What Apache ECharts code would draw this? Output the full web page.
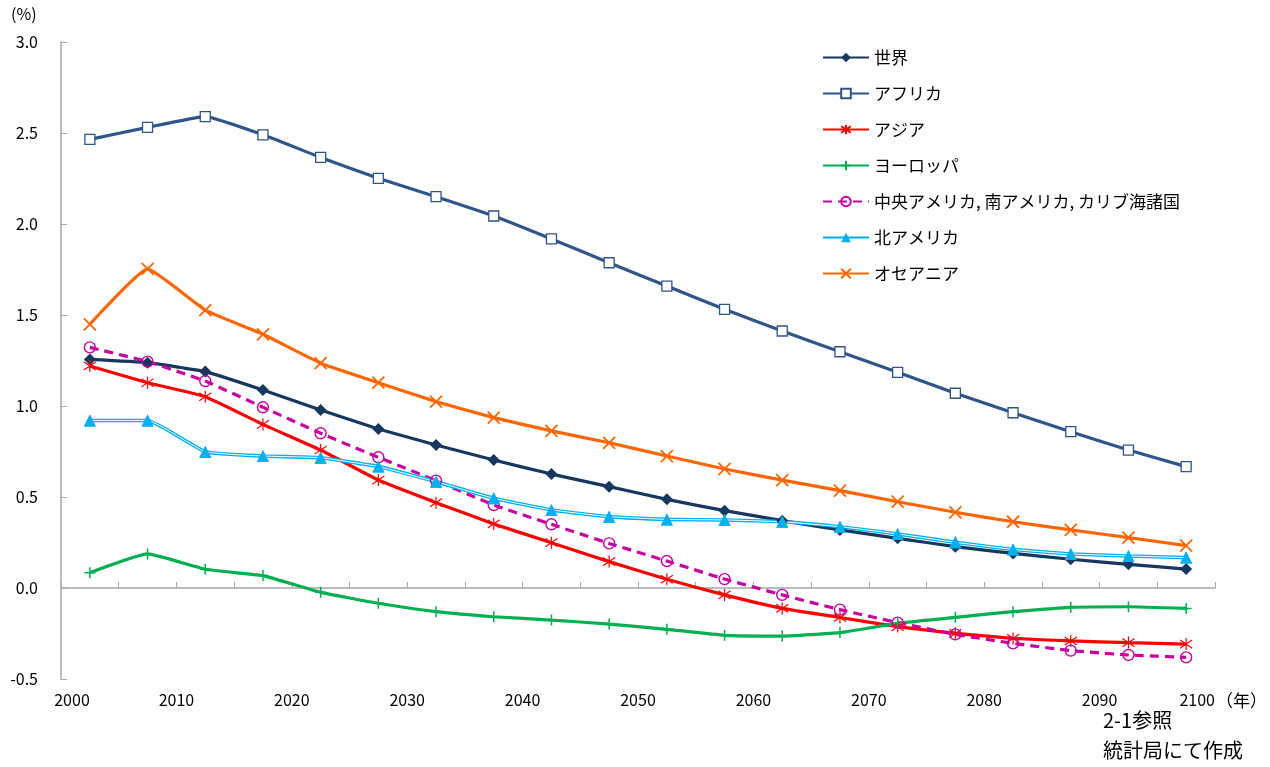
<!DOCTYPE html>
<html>
<head>
<meta charset="utf-8">
<script src="https://cdn.jsdelivr.net/npm/echarts@6/dist/echarts.min.js"></script>
<style>
html,body{margin:0;padding:0;background:#fff;}
#chart{width:1270px;height:767px;}
</style>
</head>
<body>
<div id="chart"></div>
<script>
// ---- data ----
const years = [2002.5, 2007.5, 2012.5, 2017.5, 2022.5, 2027.5, 2032.5, 2037.5, 2042.5, 2047.5,
               2052.5, 2057.5, 2062.5, 2067.5, 2072.5, 2077.5, 2082.5, 2087.5, 2092.5, 2097.5];
const seriesNames = ['世界', 'アフリカ', 'アジア', 'ヨーロッパ', '中央アメリカ, 南アメリカ, カリブ海諸国', '北アメリカ', 'オセアニア'];
const world = [1.256, 1.238, 1.189, 1.088, 0.978, 0.874, 0.786, 0.703, 0.626, 0.557,
               0.487, 0.425, 0.370, 0.319, 0.273, 0.227, 0.190, 0.158, 0.130, 0.104];
const africa = [2.465, 2.531, 2.590, 2.490, 2.366, 2.251, 2.150, 2.044, 1.918, 1.787,
                1.659, 1.531, 1.412, 1.298, 1.185, 1.070, 0.963, 0.859, 0.758, 0.667];
const asia = [1.220, 1.128, 1.051, 0.899, 0.758, 0.593, 0.469, 0.352, 0.249, 0.145,
              0.048, -0.038, -0.112, -0.162, -0.212, -0.249, -0.277, -0.291, -0.300, -0.308];
const europe = [0.084, 0.187, 0.103, 0.068, -0.024, -0.084, -0.130, -0.158, -0.176, -0.198,
                -0.227, -0.260, -0.264, -0.245, -0.194, -0.161, -0.130, -0.106, -0.103, -0.112];
const latinAmerica = [1.322, 1.244, 1.137, 0.993, 0.850, 0.718, 0.590, 0.456, 0.350, 0.245,
                      0.148, 0.049, -0.038, -0.119, -0.190, -0.255, -0.304, -0.344, -0.368, -0.381];
const northAmerica = [0.920, 0.920, 0.749, 0.725, 0.716, 0.667, 0.584, 0.493, 0.429, 0.392,
                      0.377, 0.374, 0.364, 0.337, 0.297, 0.251, 0.212, 0.187, 0.176, 0.167];
const oceania = [1.449, 1.753, 1.527, 1.394, 1.235, 1.128, 1.024, 0.936, 0.863, 0.798,
                 0.725, 0.654, 0.593, 0.535, 0.474, 0.416, 0.364, 0.319, 0.277, 0.233];
const yTicks = {min: -0.5, max: 3.0, interval: 0.5};
const xTicks = {min: 2000, max: 2100, interval: 5, labelEvery: 10};

// ---- helpers ----
const pair = arr => years.map((x, i) => [x, arr[i]]);
const FONT = '"Noto Sans CJK JP", "Noto Sans", sans-serif';
const SMOOTH = 0.12;

const C = {
  world: '#17375E',
  africa: '#2F5589',
  asia: '#FF0000',
  europe: '#00B050',
  latin: '#C800A0',
  na: '#00B0F0',
  oceania: '#FF6600'
};

const pathX = 'path://M0,0L10,10M10,0L0,10';
const pathPlus = 'path://M5,0L5,10M0,5L10,5';
const pathStar = 'path://M5,0L5,10M0.7,1.6L9.3,8.4M9.3,1.6L0.7,8.4';

const chart = echarts.init(document.getElementById('chart'), null, {renderer: 'canvas'});

const option = {
  backgroundColor: '#fff',
  animation: false,
  grid: {left: 61, right: 55, top: 42, bottom: 88, containLabel: false},
  textStyle: {fontFamily: FONT},
  legend: {
    orient: 'vertical',
    left: 817,
    top: 44,
    itemWidth: 46,
    itemHeight: 12,
    itemGap: 19,
    data: seriesNames,
    selectedMode: false,
    textStyle: {fontFamily: FONT, fontSize: 17, color: '#000', lineHeight: 16}
  },
  xAxis: {
    type: 'value',
    min: xTicks.min,
    max: xTicks.max,
    interval: xTicks.interval,
    axisLine: {lineStyle: {color: '#A6A6A6', width: 1.5}},
    axisTick: {inside: true, length: 6, lineStyle: {color: '#A6A6A6'}},
    splitLine: {show: false},
    axisLabel: {
      color: '#000', fontSize: 16, fontFamily: FONT, margin: 13,
      alignMaxLabel: 'right',
      formatter: v => {
        if (v % xTicks.labelEvery !== 0) return '';
        if (v === xTicks.min) return '{first|' + v + '}';
        return String(v);
      },
      rich: {first: {padding: [0, 0, 0, 22], fontSize: 16, fontFamily: FONT, color: '#000'}}
    }
  },
  yAxis: {
    type: 'value',
    min: yTicks.min,
    max: yTicks.max,
    interval: yTicks.interval,
    axisLine: {show: true, lineStyle: {color: '#A6A6A6', width: 1.5}},
    axisTick: {show: true, inside: true, length: 6, lineStyle: {color: '#A6A6A6'}},
    splitLine: {show: false},
    axisLabel: {color: '#000', fontSize: 16, fontFamily: FONT, margin: 23, formatter: v => v.toFixed(1)}
  },
  graphic: [
    {type: 'text', left: 11, top: 6, style: {text: '(%)', font: '16px ' + FONT, fill: '#000'}},
    {type: 'text', left: 1216, top: 692, style: {text: '（年）', font: '17px ' + FONT, fill: '#000'}},
    {type: 'text', left: 1103, top: 710, style: {text: '2-1参照', font: '20px ' + FONT, fill: '#000'}},
    {type: 'text', left: 1103, top: 740, style: {text: '統計局にて作成', font: '20px ' + FONT, fill: '#000'}}
  ],
  series: [
    {
      name: seriesNames[0], type: 'line', data: pair(world), smooth: SMOOTH,
      symbol: 'diamond', symbolSize: 12,
      lineStyle: {color: C.world, width: 3.2},
      itemStyle: {color: C.world}
    },
    {
      name: seriesNames[1], type: 'line', data: pair(africa), smooth: SMOOTH,
      symbol: 'rect', symbolSize: 10,
      lineStyle: {color: C.africa, width: 3.2},
      itemStyle: {color: '#fff', borderColor: C.africa, borderWidth: 1.3}
    },
    {
      name: seriesNames[2], type: 'line', data: pair(asia), smooth: SMOOTH,
      symbol: pathStar, symbolSize: 12,
      lineStyle: {color: C.asia, width: 3.2},
      itemStyle: {color: C.asia, borderColor: C.asia, borderWidth: 1.2}
    },
    {
      name: seriesNames[3], type: 'line', data: pair(europe), smooth: SMOOTH,
      symbol: pathPlus, symbolSize: 11,
      lineStyle: {color: C.europe, width: 3.2},
      itemStyle: {color: C.europe, borderColor: C.europe, borderWidth: 1.5}
    },
    {
      name: seriesNames[4], type: 'line', data: pair(latinAmerica), smooth: SMOOTH,
      symbol: 'circle', symbolSize: 11,
      lineStyle: {color: C.latin, width: 3.2, type: [9, 6]},
      itemStyle: {color: 'rgba(255,255,255,0)', borderColor: C.latin, borderWidth: 1.4}
    },
    {
      name: seriesNames[5], type: 'line', data: pair(northAmerica), smooth: SMOOTH,
      symbol: 'triangle', symbolSize: 12,
      lineStyle: {color: C.na, width: 3.6},
      itemStyle: {color: C.na}
    },
    {
      name: 'na-inner', type: 'line', data: pair(northAmerica), smooth: SMOOTH,
      symbol: 'none', silent: true,
      lineStyle: {color: '#fff', width: 1}
    },
    {
      name: 'na-markers', type: 'line', data: pair(northAmerica), smooth: SMOOTH,
      symbol: 'triangle', symbolSize: 12, showSymbol: true, silent: true,
      lineStyle: {width: 0, opacity: 0},
      itemStyle: {color: C.na}
    },
    {
      name: seriesNames[6], type: 'line', data: pair(oceania), smooth: SMOOTH,
      symbol: pathX, symbolSize: 12,
      lineStyle: {color: C.oceania, width: 3.2},
      itemStyle: {color: C.oceania, borderColor: C.oceania, borderWidth: 1.8}
    }
  ]
};
chart.setOption(option);
</script>
</body>
</html>
